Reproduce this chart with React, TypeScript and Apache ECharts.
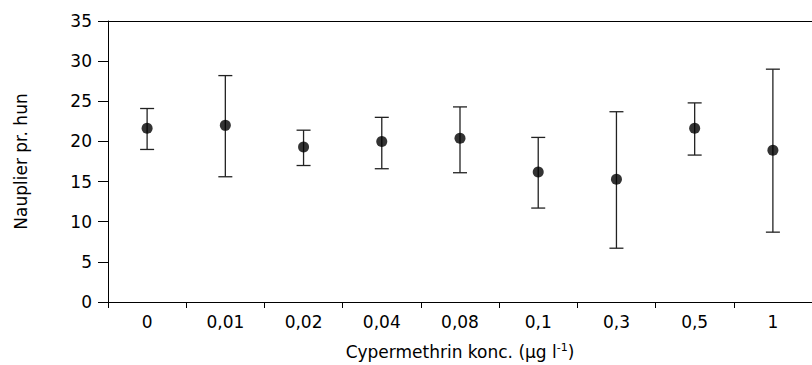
import React, { useEffect, useRef } from "react";
import * as echarts from "echarts";

const categories = ["0", "0,01", "0,02", "0,04", "0,08", "0,1", "0,3", "0,5", "1"];
const means = [21.65, 22.0, 19.3, 20.0, 20.4, 16.2, 15.3, 21.65, 18.9];
const upper = [24.1, 28.2, 21.4, 23.0, 24.3, 20.5, 23.7, 24.8, 29.0];
const lower = [19.0, 15.6, 17.0, 16.6, 16.1, 11.7, 6.7, 18.3, 8.7];
const yTicks = { min: 0, max: 35, interval: 5 };

const FONT = "'DejaVu Sans', sans-serif";
const FS = 17;

export default function App() {
  const ref = useRef<HTMLDivElement>(null);
  useEffect(() => {
    if (!ref.current) return;
    const chart = echarts.init(ref.current, null, { renderer: "svg" });
    const errData = categories.map((_, i) => [i, lower[i], upper[i]]);
    chart.setOption({
      animation: false,
      backgroundColor: "#ffffff",
      textStyle: { fontFamily: FONT },
      grid: { left: 108, top: 21, width: 709, height: 282 },
      xAxis: [
        {
          type: "category",
          data: categories,
          boundaryGap: true,
          position: "bottom",
          axisLine: { show: true, lineStyle: { color: "#000", width: 1 } },
          axisTick: { show: true, length: 6, inside: false, lineStyle: { color: "#000" } },
          axisLabel: { color: "#000", fontSize: FS, fontFamily: FONT, margin: 11 },
          splitLine: { show: false },
          name: "Cypermethrin konc. (µg l{sup|-1})",
          nameLocation: "middle",
          nameGap: 40,
          nameTextStyle: {
            color: "#000",
            fontSize: FS,
            fontFamily: FONT,
            rich: {
              sup: { fontSize: 11, fontFamily: FONT, color: "#000", verticalAlign: "top", padding: [0, 0, 8, 0] },
            },
          },
        },
        {
          type: "category",
          data: categories,
          position: "top",
          axisLine: { show: true, lineStyle: { color: "#000", width: 1 } },
          axisTick: { show: false },
          axisLabel: { show: false },
          splitLine: { show: false },
        },
      ],
      yAxis: {
        type: "value",
        min: yTicks.min,
        max: yTicks.max,
        interval: yTicks.interval,
        axisLine: { show: true, lineStyle: { color: "#000", width: 1 } },
        axisTick: { show: true, length: 10, lineStyle: { color: "#000" } },
        axisLabel: { color: "#000", fontSize: FS, fontFamily: FONT, margin: 16 },
        splitLine: { show: false },
        name: "Nauplier pr. hun",
        nameLocation: "middle",
        nameRotate: 90,
        nameGap: 79,
        nameTextStyle: { color: "#000", fontSize: FS, fontFamily: FONT },
      },
      series: [
        {
          type: "custom",
          data: errData,
          encode: { x: 0, y: [1, 2] },
          renderItem: (params: any, api: any) => {
            const x = api.value(0);
            const lo = api.coord([x, api.value(1)]);
            const hi = api.coord([x, api.value(2)]);
            const hw = 7;
            const style = { stroke: "#222", lineWidth: 1.3 };
            return {
              type: "group",
              children: [
                { type: "line", shape: { x1: lo[0], y1: lo[1], x2: hi[0], y2: hi[1] }, style },
                { type: "line", shape: { x1: hi[0] - hw, y1: hi[1], x2: hi[0] + hw, y2: hi[1] }, style },
                { type: "line", shape: { x1: lo[0] - hw, y1: lo[1], x2: lo[0] + hw, y2: lo[1] }, style },
              ],
            };
          },
          z: 2,
        },
        {
          type: "scatter",
          data: means,
          symbol: "circle",
          symbolSize: 11,
          itemStyle: { color: "#000" },
          z: 3,
        },
      ],
    });
    return () => chart.dispose();
  }, []);
  return (
    <div
      ref={ref}
      style={{ position: "fixed", left: 0, top: 0, width: 812, height: 365, background: "#fff" }}
    />
  );
}
